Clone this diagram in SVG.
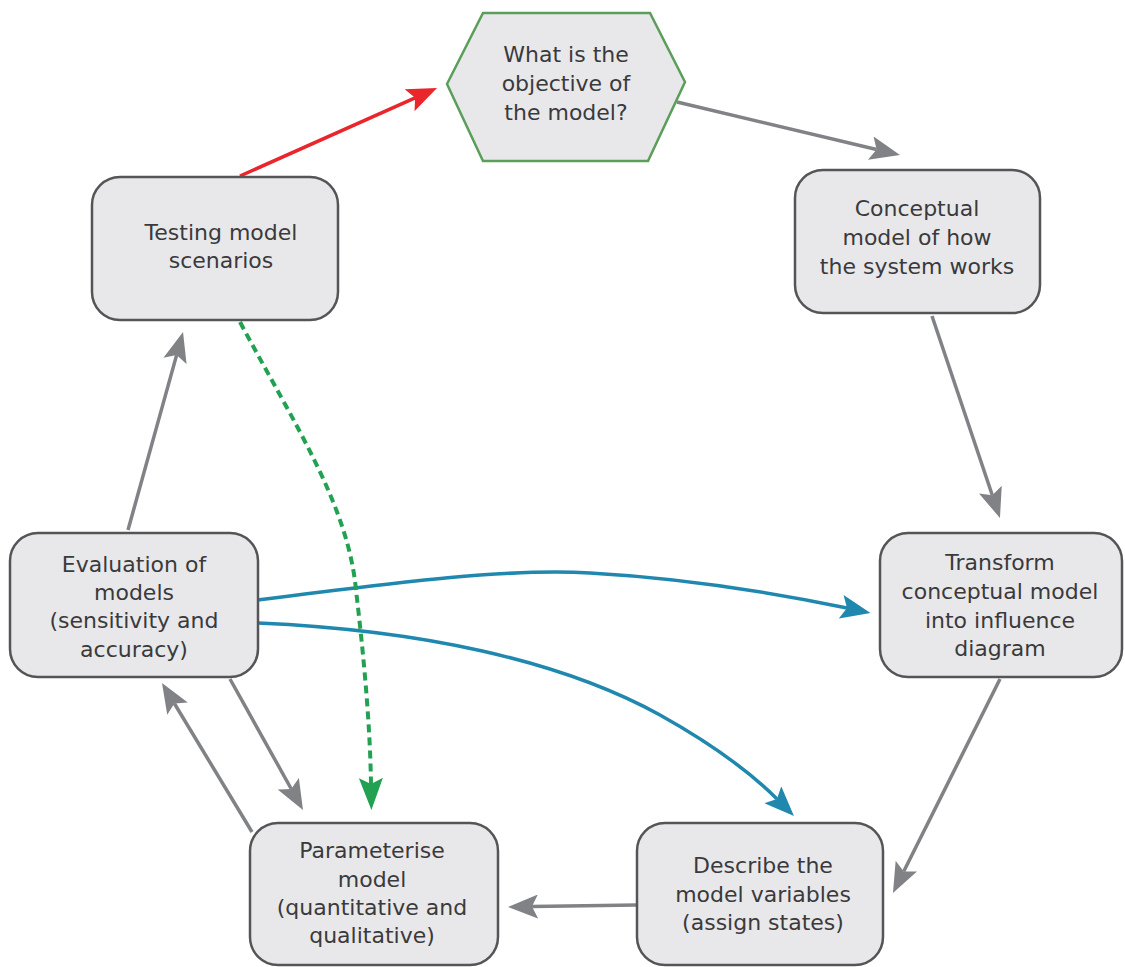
<svg xmlns="http://www.w3.org/2000/svg" width="1125" height="967" viewBox="0 0 1125 967">
<style>
.box{fill:#e8e8ea;stroke:#555558;stroke-width:2.5}
.t{font-family:"DejaVu Sans","Open Sans",sans-serif;font-size:22px;fill:#3a3a3c;text-anchor:middle}
.g{fill:none;stroke:#808285;stroke-width:3.5}
.b{fill:none;stroke:#2088ae;stroke-width:3.5}
</style>
<defs>
<marker id="ag" markerUnits="userSpaceOnUse" viewBox="0 0 30 24" markerWidth="30" markerHeight="24" refX="6" refY="12" orient="auto"><path d="M0,0 L30,12 L0,24 L6,12 z" fill="#808285"/></marker>
<marker id="ar" markerUnits="userSpaceOnUse" viewBox="0 0 30 24" markerWidth="30" markerHeight="24" refX="6" refY="12" orient="auto"><path d="M0,0 L30,12 L0,24 L6,12 z" fill="#e8262b"/></marker>
<marker id="ab" markerUnits="userSpaceOnUse" viewBox="0 0 30 24" markerWidth="30" markerHeight="24" refX="6" refY="12" orient="auto"><path d="M0,0 L30,12 L0,24 L6,12 z" fill="#2088ae"/></marker>
<marker id="agr" markerUnits="userSpaceOnUse" viewBox="0 0 32 24" markerWidth="32" markerHeight="24" refX="6" refY="12" orient="auto"><path d="M0,0 L32,12 L0,24 L6,12 z" fill="#22a152"/></marker>
</defs>
<rect width="1125" height="967" fill="#ffffff"/>
<g id="connectors">
<line class="g" x1="677" y1="102" x2="876.6" y2="149.5" marker-end="url(#ag)"/>
<line class="g" x1="932" y1="316" x2="992.3" y2="495.3" marker-end="url(#ag)"/>
<line class="g" x1="1000" y1="679" x2="903.7" y2="871.5" marker-end="url(#ag)"/>
<line class="g" x1="637" y1="905" x2="532" y2="906.6" marker-end="url(#ag)"/>
<line class="g" x1="252" y1="832" x2="174.4" y2="703.5" marker-end="url(#ag)"/>
<line class="g" x1="230" y1="679" x2="291.3" y2="789" marker-end="url(#ag)"/>
<line class="g" x1="128" y1="530" x2="176.6" y2="355.1" marker-end="url(#ag)"/>
<line x1="240" y1="176" x2="415.1" y2="97.8" stroke="#e8262b" stroke-width="3.5" marker-end="url(#ar)"/>
<path class="b" d="M258,600 C400,582 510,568 590,573 C680,578 770,592 847,608" marker-end="url(#ab)"/>
<path class="b" d="M258,623 C420,630 560,660 660,715 C712,744 750,772 777,799" marker-end="url(#ab)"/>
<path d="M240,322 C295,425 348,505 356,590 C363,650 370,720 371,784" fill="none" stroke="#22a152" stroke-width="4" stroke-dasharray="8,5" marker-end="url(#agr)"/>
</g>
<g id="objective">
<polygon points="447,84 483,13 650,13 685,82 648,161 483,161" fill="#e8e8ea" stroke="#5a9e5a" stroke-width="2.5"/>
<text class="t" x="566" y="62">What is the</text>
<text class="t" x="566" y="91">objective of</text>
<text class="t" x="566" y="120">the model?</text>
</g>
<g id="conceptual">
<rect class="box" x="795" y="170" width="245" height="143" rx="28"/>
<text class="t" x="917" y="216">Conceptual</text>
<text class="t" x="917" y="245">model of how</text>
<text class="t" x="917" y="274">the system works</text>
</g>
<g id="transform">
<rect class="box" x="880" y="533" width="242" height="144" rx="28"/>
<text class="t" x="1000" y="570">Transform</text>
<text class="t" x="1000" y="599">conceptual model</text>
<text class="t" x="1000" y="628">into influence</text>
<text class="t" x="1000" y="656">diagram</text>
</g>
<g id="describe">
<rect class="box" x="637" y="823" width="246" height="142" rx="28"/>
<text class="t" x="763" y="873">Describe the</text>
<text class="t" x="763" y="902">model variables</text>
<text class="t" x="763" y="930">(assign states)</text>
</g>
<g id="parameterise">
<rect class="box" x="250" y="823" width="248" height="142" rx="28"/>
<text class="t" x="372" y="858">Parameterise</text>
<text class="t" x="372" y="887">model</text>
<text class="t" x="372" y="915">(quantitative and</text>
<text class="t" x="372" y="943">qualitative)</text>
</g>
<g id="evaluation">
<rect class="box" x="10" y="533" width="248" height="144" rx="28"/>
<text class="t" x="134" y="572">Evaluation of</text>
<text class="t" x="134" y="600">models</text>
<text class="t" x="134" y="628">(sensitivity and</text>
<text class="t" x="134" y="657">accuracy)</text>
</g>
<g id="testing">
<rect class="box" x="92" y="177" width="246" height="143" rx="28"/>
<text class="t" x="221" y="240">Testing model</text>
<text class="t" x="221" y="268">scenarios</text>
</g>
</svg>
